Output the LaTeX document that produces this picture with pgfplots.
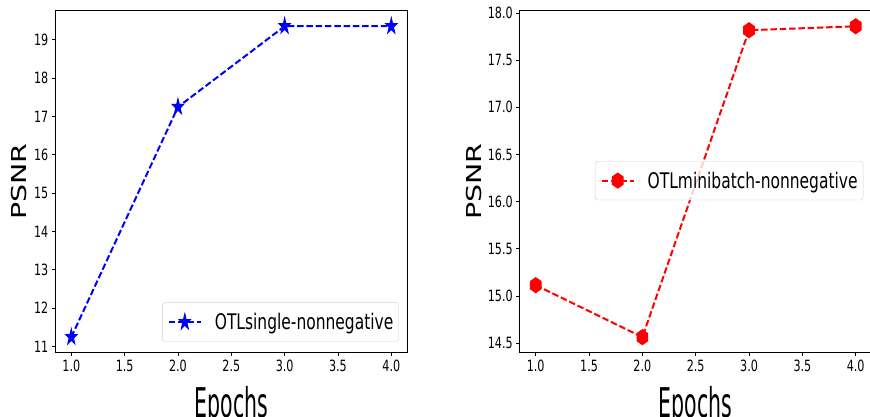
\documentclass[border=0pt]{standalone}
\usepackage{fontspec}
\setmainfont[FakeStretch=0.72]{DejaVu Sans}
\newfontfamily\plainsans{DejaVu Sans}
\usepackage{graphicx}
\usepackage{pgfplots}
\pgfplotsset{compat=1.18}

% filled five-point star (matplotlib '*')
\pgfdeclareplotmark{fstar}{%
  \pgfpathmoveto{\pgfpointpolar{90}{\pgfplotmarksize}}%
  \pgfpathlineto{\pgfpointpolar{126}{0.382\pgfplotmarksize}}%
  \pgfpathlineto{\pgfpointpolar{162}{\pgfplotmarksize}}%
  \pgfpathlineto{\pgfpointpolar{198}{0.382\pgfplotmarksize}}%
  \pgfpathlineto{\pgfpointpolar{234}{\pgfplotmarksize}}%
  \pgfpathlineto{\pgfpointpolar{270}{0.382\pgfplotmarksize}}%
  \pgfpathlineto{\pgfpointpolar{306}{\pgfplotmarksize}}%
  \pgfpathlineto{\pgfpointpolar{342}{0.382\pgfplotmarksize}}%
  \pgfpathlineto{\pgfpointpolar{18}{\pgfplotmarksize}}%
  \pgfpathlineto{\pgfpointpolar{54}{0.382\pgfplotmarksize}}%
  \pgfpathclose\pgfusepathqfillstroke}

% filled hexagon, point up (matplotlib 'h')
\pgfdeclareplotmark{hexa}{%
  \pgfpathmoveto{\pgfpointpolar{90}{\pgfplotmarksize}}%
  \pgfpathlineto{\pgfpointpolar{150}{\pgfplotmarksize}}%
  \pgfpathlineto{\pgfpointpolar{210}{\pgfplotmarksize}}%
  \pgfpathlineto{\pgfpointpolar{270}{\pgfplotmarksize}}%
  \pgfpathlineto{\pgfpointpolar{330}{\pgfplotmarksize}}%
  \pgfpathlineto{\pgfpointpolar{30}{\pgfplotmarksize}}%
  \pgfpathclose\pgfusepathqfillstroke}

\pgfplotsset{
  psnr/.style={
    scale only axis, width=352pt, height=342pt,
    xmin=0.85, xmax=4.15,
    xtick={1,1.5,2,2.5,3,3.5,4},
    axis line style={line width=1pt, black},
    tick align=outside, tick pos=left,
    major tick length=3.5pt,
    every tick/.style={black, line width=0.8pt},
    tick label style={font=\fontsize{15.5}{18}\selectfont},
    /pgf/number format/assume math mode=true,
    xticklabel style={/pgf/number format/.cd, fixed, fixed zerofill, precision=1},
    xlabel={\scalebox{0.5}[1]{\plainsans Epochs}},
    ylabel={\scalebox{1}[0.72]{\plainsans PSNR}},
    ylabel style={font=\fontsize{28.5}{34}\selectfont},
    xlabel style={font=\fontsize{41}{48}\selectfont,
      at={(axis description cs:0.5,-0.189)}, anchor=base},
    legend cell align=left,
    legend image code/.code={%
      \begin{scope}[fill opacity=1, draw opacity=1]
      \draw[mark repeat=2, mark phase=2, ##1] plot coordinates {(0pt,0pt) (16pt,0pt) (32pt,0pt)};
      \end{scope}},
    legend style={draw=black!18, rounded corners=3pt, fill=white,
      fill opacity=0.8, draw opacity=1, text opacity=1,
      font=\fontsize{21.5}{25}\selectfont,
      inner xsep=5.5pt, inner ysep=10.5pt, column sep=13pt,
      nodes={inner sep=0pt}},
  },
  dashedline/.style={line width=2pt, dash pattern=on 6.5pt off 2.8pt},
}

\begin{document}
\begin{tikzpicture}
\clip (0,0) rectangle (870pt,416pt);

\begin{axis}[psnr,
  at={(55.3pt,63.3pt)}, anchor=south west,
  ymin=10.84, ymax=19.755,
  ytick={11,12,13,14,15,16,17,18,19},
  ylabel style={at={(axis description cs:-0.0813,0.5)}, anchor=base},
  legend style={at={(axis description cs:0.9764,0.0322)}, anchor=south east},
]
\addplot[blue, dashedline, mark=fstar, mark size=8.2pt,
  mark options={solid, line width=1pt, xscale=0.72}]
  coordinates {(1,11.245) (2,17.245) (3,19.35) (4,19.35)};
\addlegendentry{OTLsingle-nonnegative}
\end{axis}

\begin{axis}[psnr,
  at={(519.7pt,63.3pt)}, anchor=south west,
  ymin=14.398, ymax=18.024,
  ytick={14.5,15,15.5,16,16.5,17,17.5,18},
  yticklabel style={/pgf/number format/.cd, fixed, fixed zerofill, precision=1},
  ylabel style={at={(axis description cs:-0.108,0.5)}, anchor=base},
  legend style={at={(axis description cs:0.976,0.5605)}, anchor=north east},
]
\addplot[red, dashedline, mark=hexa, mark size=7.5pt,
  mark options={solid, line width=1pt, xscale=0.82}]
  coordinates {(1,15.114) (2,14.563) (3,17.817) (4,17.859)};
\addlegendentry{OTLminibatch-nonnegative}
\end{axis}
\end{tikzpicture}
\end{document}
